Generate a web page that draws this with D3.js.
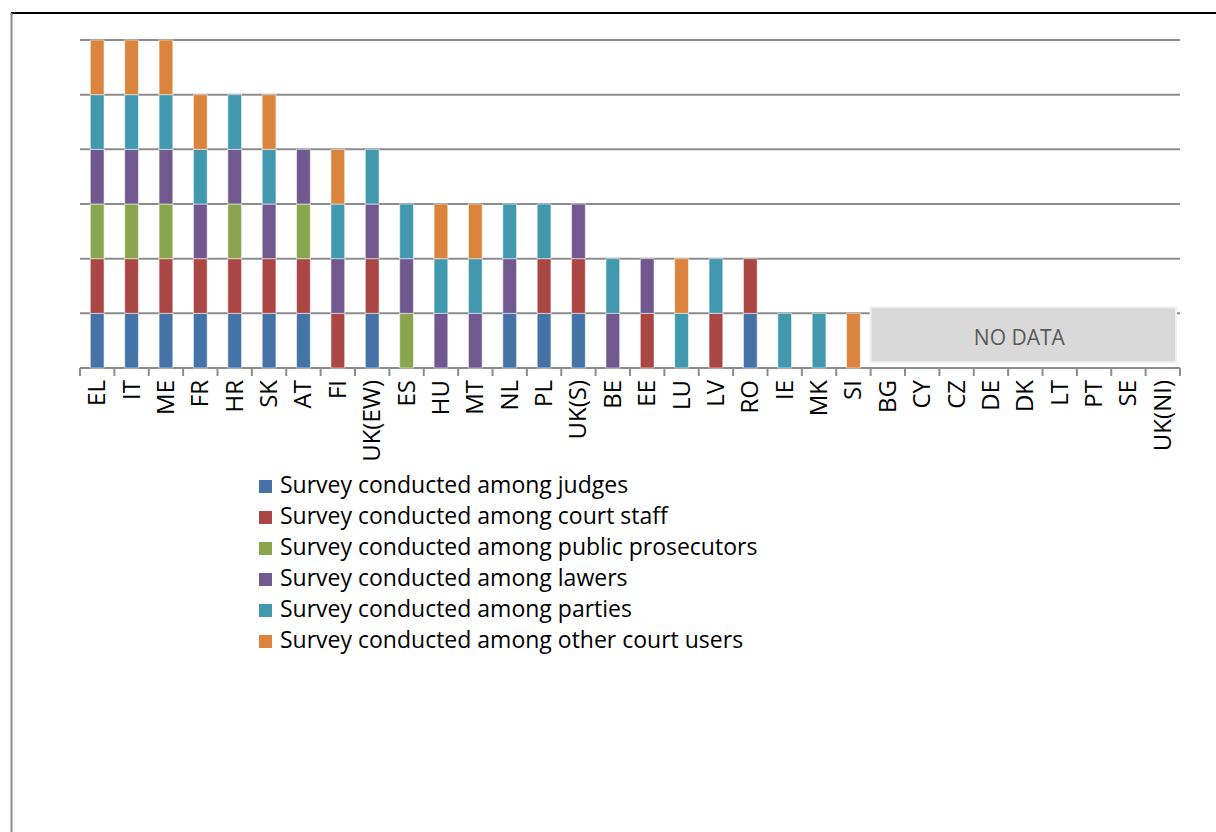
<!DOCTYPE html>
<html>
<head>
<meta charset="utf-8">
<script src="https://cdn.jsdelivr.net/npm/d3@7"></script>
<style>
  html, body { margin: 0; padding: 0; background: #fff; }
  svg { display: block; }
  text { font-family: "Open Sans", "Liberation Sans", sans-serif; }
</style>
</head>
<body>
<svg id="chart" width="1216" height="832"></svg>
<script>
// Countries along the x axis
const countries = ["EL","IT","ME","FR","HR","SK","AT","FI","UK(EW)","ES","HU","MT","NL","PL","UK(S)",
  "BE","EE","LU","LV","RO","IE","MK","SI","BG","CY","CZ","DE","DK","LT","PT","SE","UK(NI)"];

// Survey types (stack order, bottom to top)
const seriesNames = [
  "Survey conducted among judges",
  "Survey conducted among court staff",
  "Survey conducted among public prosecutors",
  "Survey conducted among lawers",
  "Survey conducted among parties",
  "Survey conducted among other court users"
];
const seriesColors = ["#4572A7", "#AA4643", "#89A54E", "#71588F", "#4198AF", "#DB843D"];

// 1 = survey conducted, 0 = not conducted (one value per country)
const judges      = [1,1,1,1,1,1,1,0,1,0,0,0,1,1,1,0,0,0,0,1,0,0,0,0,0,0,0,0,0,0,0,0];
const courtStaff  = [1,1,1,1,1,1,1,1,1,0,0,0,0,1,1,0,1,0,1,1,0,0,0,0,0,0,0,0,0,0,0,0];
const prosecutors = [1,1,1,0,1,0,1,0,0,1,0,0,0,0,0,0,0,0,0,0,0,0,0,0,0,0,0,0,0,0,0,0];
const lawyers     = [1,1,1,1,1,1,1,1,1,1,1,1,1,0,1,1,1,0,0,0,0,0,0,0,0,0,0,0,0,0,0,0];
const parties     = [1,1,1,1,1,1,0,1,1,1,1,1,1,1,0,1,0,1,1,0,1,1,0,0,0,0,0,0,0,0,0,0];
const otherUsers  = [1,1,1,1,0,1,0,1,0,0,1,1,0,0,0,0,0,1,0,0,0,0,1,0,0,0,0,0,0,0,0,0];

// Countries without data
const noDataCountries = ["BG","CY","CZ","DE","DK","LT","PT","SE","UK(NI)"];
const noDataLabel = "NO DATA";

// Gridline values
const gridValues = [0,1,2,3,4,5,6];

const seriesValues = [judges, courtStaff, prosecutors, lawyers, parties, otherUsers];
const keys = seriesNames;
const table = countries.map((c, i) => {
  const row = { country: c };
  keys.forEach((k, s) => row[k] = seriesValues[s][i]);
  return row;
});

const svg = d3.select("#chart");

// Frame
svg.append("line").attr("x1", 11).attr("x2", 1216).attr("y1", 13).attr("y2", 13)
  .attr("stroke", "#000").attr("stroke-width", 2);
svg.append("line").attr("x1", 11.5).attr("x2", 11.5).attr("y1", 13).attr("y2", 832)
  .attr("stroke", "#8a8a8a").attr("stroke-width", 2);

const x = d3.scaleBand().domain(countries).range([80, 1180]).paddingInner(0.6).paddingOuter(0.3);
const xEdge = d3.scaleBand().domain(countries).range([80, 1180]).padding(0);
const y = d3.scaleLinear().domain([0, 6]).range([368, 40]);

// Horizontal gridlines
svg.append("g").selectAll("line").data(gridValues).join("line")
  .attr("x1", 80).attr("x2", 1180)
  .attr("y1", d => y(d)).attr("y2", d => y(d))
  .attr("stroke", "#8c8c8c").attr("stroke-width", 2);

// Stacked bars
const stack = d3.stack().keys(keys);
const stacked = stack(table);
svg.append("g").selectAll("g").data(stacked).join("g")
  .attr("fill", (d, i) => seriesColors[i])
  .selectAll("rect").data(d => d.filter(p => p[1] > p[0])).join("rect")
    .attr("x", d => x(d.data.country))
    .attr("width", x.bandwidth())
    .attr("y", d => y(d[1]))
    .attr("height", d => y(d[0]) - y(d[1]))
    .attr("stroke", "rgba(255,255,255,0.55)")
    .attr("stroke-width", 1);

// X axis: ticks between categories
const tickPositions = countries.map(c => xEdge(c)).concat([xEdge.range()[1]]);
svg.append("g").selectAll("line").data(tickPositions).join("line")
  .attr("x1", d => d).attr("x2", d => d)
  .attr("y1", y(0)).attr("y2", y(0) + 8)
  .attr("stroke", "#8c8c8c").attr("stroke-width", 2);

// Category labels, rotated
svg.append("g").selectAll("text").data(countries).join("text")
  .attr("transform", d => `translate(${xEdge(d) + xEdge.bandwidth() / 2 + 8},380) rotate(-90)`)
  .attr("text-anchor", "end")
  .attr("font-size", 24)
  .attr("fill", "#000")
  .text(d => d);

// No-data box
const ndX0 = xEdge(noDataCountries[0]);
const ndX1 = xEdge.range()[1] - 4;
svg.append("rect")
  .attr("x", ndX0).attr("y", y(1) - 6)
  .attr("width", ndX1 - ndX0).attr("height", y(0) - y(1))
  .attr("fill", "#D9D9D9").attr("stroke", "#f0f0f0").attr("stroke-width", 2);
svg.append("text")
  .attr("x", (ndX0 + ndX1) / 2 - 4).attr("y", y(0.5) - 1)
  .attr("text-anchor", "middle").attr("dominant-baseline", "middle")
  .attr("font-size", 21).attr("fill", "#595959")
  .text(noDataLabel);

// Legend
const legend = svg.append("g").attr("transform", "translate(259,487)");
const rows = legend.selectAll("g").data(seriesNames).join("g")
  .attr("transform", (d, i) => `translate(0,${i * 31})`);
rows.append("rect").attr("x", 0).attr("y", -7).attr("width", 13).attr("height", 13)
  .attr("fill", (d, i) => seriesColors[i]);
rows.append("text").attr("x", 21).attr("y", 0)
  .attr("dominant-baseline", "middle")
  .attr("font-size", 23).attr("fill", "#000")
  .text(d => d);
</script>
</body>
</html>
